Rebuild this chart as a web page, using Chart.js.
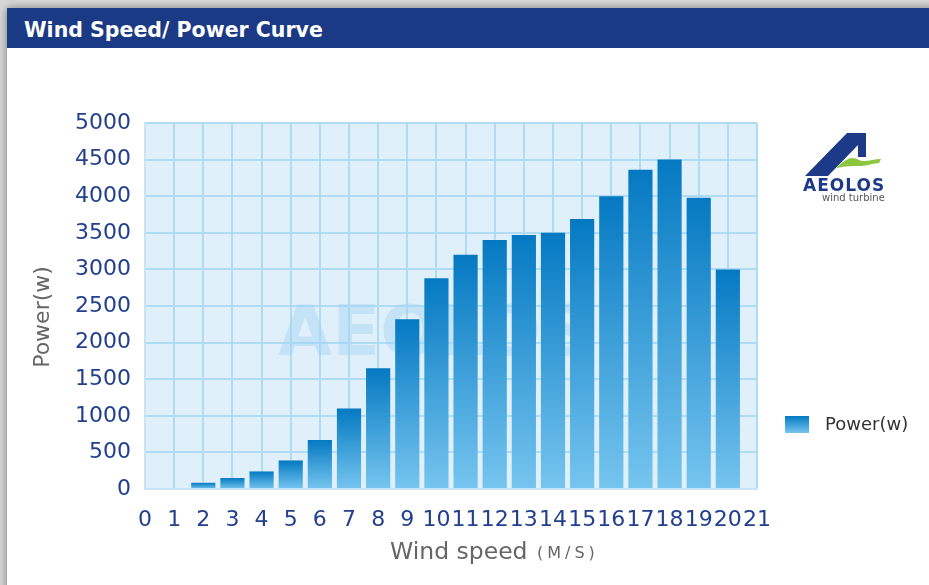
<!DOCTYPE html>
<html lang="en">
<head>
<meta charset="UTF-8">
<title>Wind Speed/ Power Curve</title>
<script src="https://cdn.jsdelivr.net/npm/chart.js"></script>
<style>
    html,body{margin:0;padding:0;width:929px;height:585px;overflow:hidden;background:#d9d9d9;}
    #card{position:absolute;left:7px;top:8px;width:940px;height:600px;background:#fff;box-shadow:0 0 9px rgba(0,0,0,0.45);}
    #head{position:absolute;left:0;top:0;width:100%;height:40px;background:#1b3a86;color:#fff;
        font:bold 20.5px "DejaVu Sans",Verdana,sans-serif;line-height:44px;padding-left:17px;box-sizing:border-box;}
    #wrap{position:absolute;left:0;top:40px;width:922px;height:537px;}
    #logo{position:absolute;left:793px;top:120px;width:100px;height:90px;}
</style>
</head>
<body>
<div id="card">
    <div id="head">Wind Speed/ Power Curve</div>
    <div id="wrap"><canvas id="myChart" width="922" height="537"></canvas></div>
    <svg id="logo" viewBox="0 0 100 90">
        <polygon points="47,5 66,5 66,29 58,29 58,17 28,48 5,48" fill="#1c3a87"/>
        <path d="M37,39 C44,33 48,30 53,30 C57,30 59,33 63,33 C70,33 75,31 81,31 L79,35 C73,35 68,38 61,38 C53,38 45,38 37,40 Z" fill="#8cc63f"/>
        <text x="3" y="63" font-family="DejaVu Sans" font-weight="bold" font-size="17" letter-spacing="1" fill="#1c3a87">AEOLOS</text>
        <text x="22" y="73" font-family="DejaVu Sans" font-size="10" fill="#555">wind turbine</text>
    </svg>
</div>
<script>
    // 풍속(m/s) 별 출력(w)
    const windSpeed = ['0','1','2','3','4','5','6','7','8','9','10','11','12','13','14','15','16','17','18','19','20','21'];
    const power = [null, null, 85, 150, 240, 390, 670, 1100, 1650, 2320, 2880, 3200, 3400, 3470, 3500, 3690, 4000, 4360, 4500, 3980, 3000, null];
    const yTicks = [0, 500, 1000, 1500, 2000, 2500, 3000, 3500, 4000, 4500, 5000];
    const seriesName = 'Power(w)';

    const FONT = '"DejaVu Sans", Verdana, sans-serif';
    const TOP = '#0479c2', BOTTOM = '#76c5ef';

    // 플롯 배경, 워터마크, 축 제목, 범례
    const deco = {
        id: 'deco',
        beforeDraw(chart){
            const {ctx, chartArea:a} = chart;
            ctx.save();
            ctx.fillStyle = '#dff0fa';
            ctx.fillRect(a.left, a.top, a.right - a.left, a.bottom - a.top);
            ctx.restore();
        },
        beforeDatasetsDraw(chart){
            const {ctx, chartArea:a} = chart;
            ctx.save();
            ctx.font = 'bold 70px ' + FONT;
            ctx.fillStyle = 'rgba(165,210,242,0.45)';
            ctx.textBaseline = 'alphabetic';
            ctx.fillText('AEOLOS', a.left + 133, a.top + 232);
            ctx.restore();
        },
        afterDraw(chart){
            const {ctx, chartArea:a} = chart;
            ctx.save();
            ctx.fillStyle = '#666';
            // y title
            ctx.font = '22px ' + FONT;
            ctx.translate(36, (a.top + a.bottom) / 2 + 11);
            ctx.rotate(-Math.PI / 2);
            ctx.textAlign = 'center';
            ctx.textBaseline = 'middle';
            ctx.fillText('Power(w)', 0, 0);
            ctx.restore();
            // x title
            ctx.save();
            ctx.fillStyle = '#666';
            ctx.textBaseline = 'alphabetic';
            ctx.font = '23.5px ' + FONT;
            ctx.fillText('Wind speed', 383, 511);
            ctx.font = '16px ' + FONT;
            ctx.letterSpacing = '4px';
            ctx.fillText('(M/S)', 530, 510);
            ctx.restore();
            // legend
            ctx.save();
            const g = ctx.createLinearGradient(0, 368, 0, 385);
            g.addColorStop(0, TOP); g.addColorStop(1, BOTTOM);
            ctx.fillStyle = g;
            ctx.fillRect(778, 368, 24, 17);
            ctx.fillStyle = '#333';
            ctx.font = '18px ' + FONT;
            ctx.textBaseline = 'middle';
            ctx.fillText(seriesName, 818, 377);
            ctx.restore();
        }
    };

    const ctx = document.getElementById('myChart');
    new Chart(ctx, {
        type: 'bar',
        data: {
            labels: windSpeed,
            datasets: [{
                label: seriesName,
                data: power,
                backgroundColor: function(c){
                    const chart = c.chart;
                    if (!chart.chartArea || c.raw == null) return TOP;
                    const y = chart.scales.y;
                    const top = y.getPixelForValue(c.raw), bot = y.getPixelForValue(0);
                    const g = chart.ctx.createLinearGradient(0, top, 0, bot);
                    g.addColorStop(0, TOP);
                    g.addColorStop(1, BOTTOM);
                    return g;
                },
                borderWidth: 0,
                barPercentage: 0.83,
                categoryPercentage: 1
            }]
        },
        options: {
            responsive: false,
            animation: false,
            layout: {padding: {top: 75, right: 172, left: 0, bottom: 0}},
            plugins: {legend: {display: false}, tooltip: {enabled: false}},
            scales: {
                x: {
                    offset: false,
                    grid: {offset: false, color: '#b0dbf5', lineWidth: 2, drawTicks: false},
                    border: {color: '#c8e5f8', width: 2},
                    ticks: {autoSkip: false, maxRotation: 0, padding: 18, color: '#22408e', font: {family: FONT, size: 22}},
                    afterFit(s){ s.height = 96; }
                },
                y: {
                    min: yTicks[0],
                    max: yTicks[yTicks.length - 1],
                    ticks: {
                        stepSize: yTicks[1] - yTicks[0],
                        padding: 14, color: '#22408e', font: {family: FONT, size: 22},
                        callback: v => String(v)
                    },
                    grid: {color: '#b0dbf5', lineWidth: 2, drawTicks: false},
                    border: {color: '#c8e5f8', width: 2},
                    afterFit(s){ s.width = 138; }
                }
            }
        },
        plugins: [deco]
    });
</script>
</body>
</html>
